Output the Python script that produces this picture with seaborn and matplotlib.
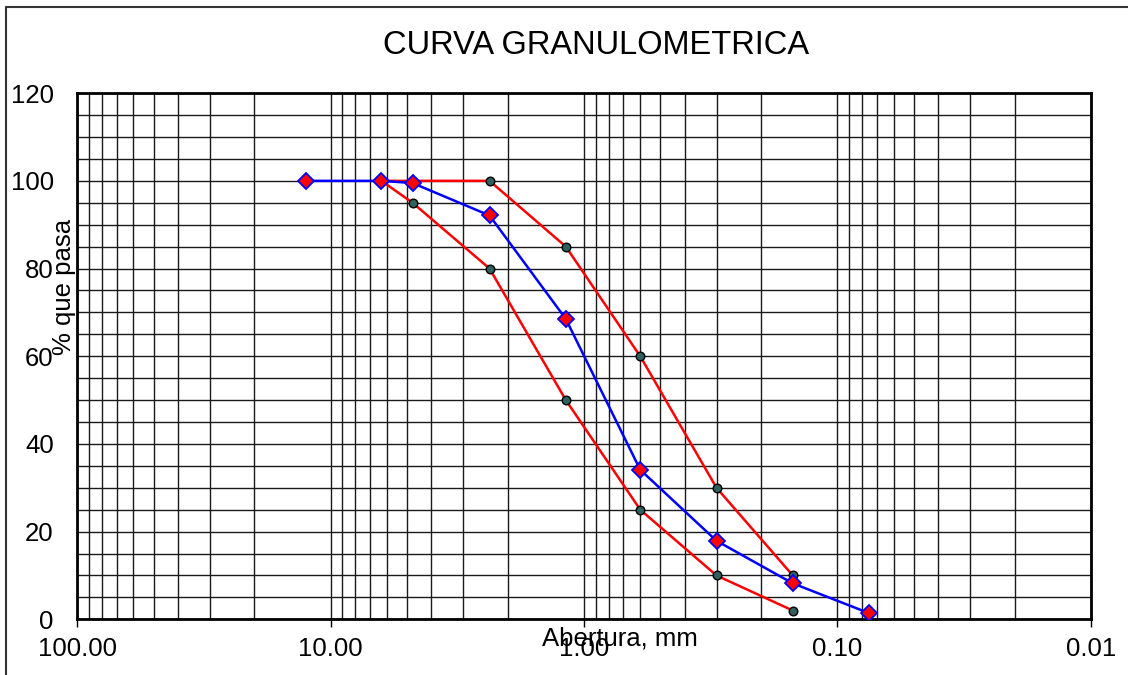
import numpy as np
import pandas as pd
import matplotlib
matplotlib.use("Agg")
import matplotlib.pyplot as plt
import matplotlib.ticker as mticker
from matplotlib.lines import Line2D
import seaborn as sns

# abertura de tamices (mm) y % que pasa
tamices = [12.5, 6.3, 4.75, 2.36, 1.18, 0.6, 0.3, 0.15, 0.075]
muestra = [100, 100, 99.5, 92.1, 68.5, 34.1, 17.9, 8.2, 1.4]

tamices_lim = [6.3, 4.75, 2.36, 1.18, 0.6, 0.3, 0.15]
lim_sup = [100, 100, 100, 85, 60, 30, 10]
lim_inf = [100, 95, 80, 50, 25, 10, 2]

xticks = [100, 10, 1, 0.1, 0.01]

sns.set_theme(style="white")
plt.rcParams['font.family'] = ['Liberation Sans', 'DejaVu Sans']
plt.rcParams['text.color'] = 'black'
plt.rcParams['axes.labelcolor'] = 'black'
plt.rcParams['xtick.color'] = 'black'
plt.rcParams['ytick.color'] = 'black'

fig = plt.figure(figsize=(11.28, 6.75), dpi=100)
ax = fig.add_axes([0.0685, 0.0825, 0.8985, 0.7795])

df_m = pd.DataFrame({"abertura": tamices, "pasa": muestra})
df_s = pd.DataFrame({"abertura": tamices_lim, "pasa": lim_sup})
df_i = pd.DataFrame({"abertura": tamices_lim, "pasa": lim_inf})

for d in (df_s, df_i):
    sns.lineplot(data=d, x="abertura", y="pasa", ax=ax, sort=False, estimator=None,
                 color="red", lw=1.8, marker="o", markersize=6.2,
                 markerfacecolor="#2f5f5f", markeredgecolor="black", markeredgewidth=1.0,
                 zorder=4)
sns.lineplot(data=df_m, x="abertura", y="pasa", ax=ax, sort=False, estimator=None,
             color="blue", lw=1.8, marker="D", markersize=8,
             markerfacecolor="red", markeredgecolor="blue", markeredgewidth=1.3,
             zorder=5)

ax.set_xscale("log")
ax.set_xlim(100, 0.01)
ax.set_ylim(0, 120)
ax.set_xticks(xticks)
ax.xaxis.set_major_formatter(mticker.FormatStrFormatter("%.2f"))
ax.xaxis.set_minor_locator(mticker.LogLocator(base=10, subs=np.arange(2, 10)))
ax.xaxis.set_minor_formatter(mticker.NullFormatter())
ax.set_yticks(np.arange(0, 121, 20))
ax.yaxis.set_minor_locator(mticker.MultipleLocator(5))

ax.grid(True, which="both", axis="both", color="#1a1a1a", lw=1.0)
ax.set_axisbelow(True)

ax.tick_params(axis="x", which="major", length=6, width=1, color="black",
               direction="out", bottom=True, labelsize=18.5, pad=7)
ax.tick_params(axis="x", which="minor", length=0)
ax.tick_params(axis="y", which="both", length=0, labelsize=18.5, pad=17)

for s in ax.spines.values():
    s.set_visible(True)
    s.set_color("black")
    s.set_linewidth(2)

ax.set_xlabel("Abertura, mm", fontsize=18.5, ha="center", va="center")
ax.xaxis.set_label_coords(0.5355, -0.036)
ax.set_ylabel("% que pasa", fontsize=18.5, ha="center", va="center")
ax.yaxis.set_label_coords(-0.013, 0.632)

fig.text(0.528, 0.932, "CURVA GRANULOMETRICA", fontsize=23.5, ha="center", va="center")

# marco exterior
fig.add_artist(Line2D([0.0053, 0.0053], [0.0, 0.9896], transform=fig.transFigure,
                      color="#333333", lw=1.5))
fig.add_artist(Line2D([0.0053, 1.0], [0.9896, 0.9896], transform=fig.transFigure,
                      color="#333333", lw=1.5))

fig.savefig("out.png", dpi=100)
